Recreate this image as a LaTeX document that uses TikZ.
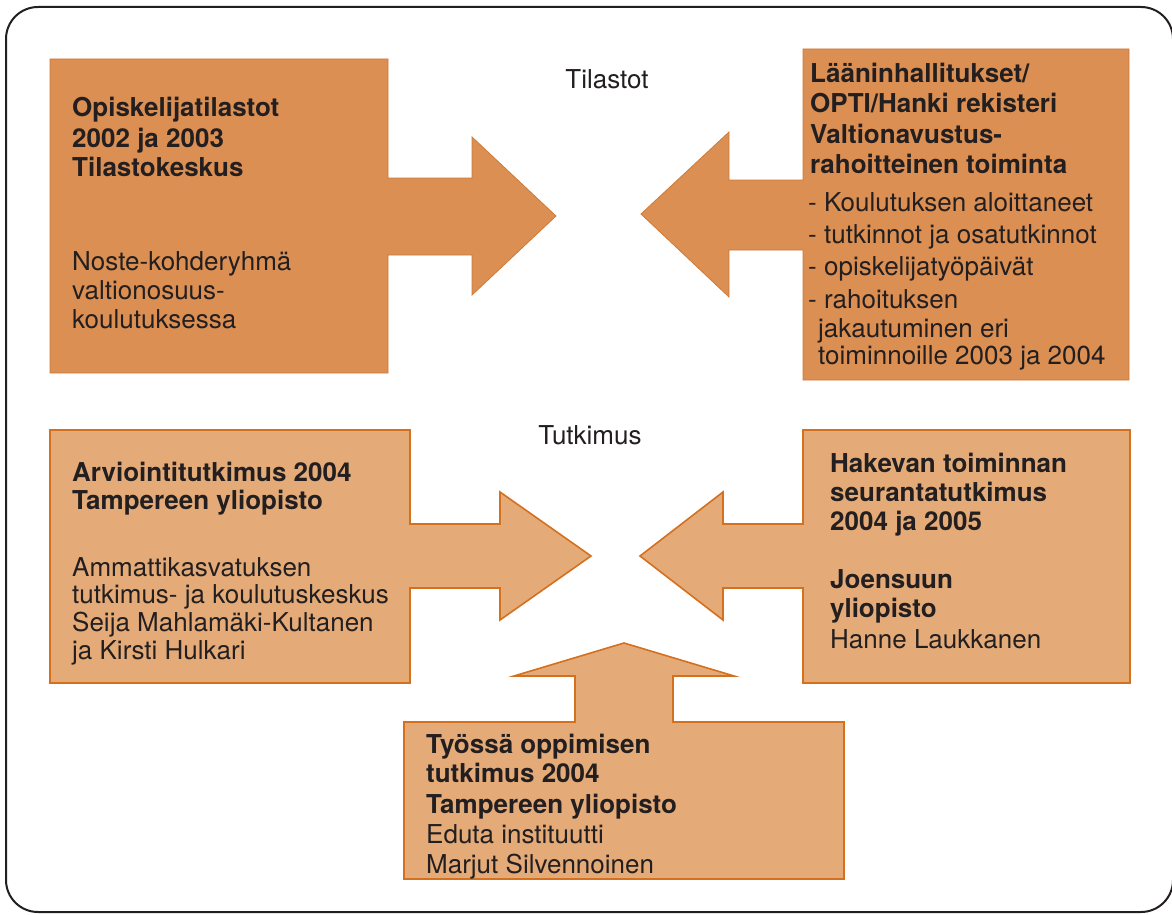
\documentclass[tikz,border=0pt]{standalone}
\usepackage{fontspec}
\setmainfont{TeX Gyre Heros}
\definecolor{tilfill}{HTML}{DB8F52}
\definecolor{tilline}{HTML}{CF7A36}
\definecolor{tutfill}{HTML}{E4AB78}
\definecolor{tutline}{HTML}{D4701E}
\definecolor{inkgray}{HTML}{231F20}
\tikzset{frame/.style={draw=inkgray, line width=2pt, rounded corners=32pt},
         topbox/.style={fill=tilfill, draw=tilline, line width=0.8pt},
         lowbox/.style={fill=tutfill, draw=tutline, line width=1.6pt},
         txt/.style={anchor=base west, inner sep=0pt, text=inkgray, font=\fontsize{26}{30}\selectfont},
         hd/.style={txt, font=\fontsize{26}{30}\selectfont\bfseries}}

\begin{document}
\begin{tikzpicture}[x=1pt,y=-1pt]
   \useasboundingbox (0,0) rectangle (1172,915);
   \draw[frame] (6,7) rectangle (1173,912);

   % Tilastot
   \draw[topbox] (50,59) -- (388,59) -- (388,178) -- (472,178) -- (472,137) -- (556,216)
     -- (472,295) -- (472,255) -- (388,255) -- (388,373) -- (50,373) -- cycle;
   \draw[topbox] (803,49) -- (1129,49) -- (1129,380) -- (803,380) -- (803,250) -- (729,250)
     -- (729,297) -- (641,214) -- (729,132) -- (729,180) -- (803,180) -- cycle;

   % Tutkimus
   \draw[lowbox] (50,430) -- (410,430) -- (410,524) -- (500,524) -- (500,492) -- (591,556)
     -- (500,620) -- (500,588) -- (410,588) -- (410,683) -- (50,683) -- cycle;
   \draw[lowbox] (803,430) -- (1130,430) -- (1130,683) -- (803,683) -- (803,588) -- (723,588)
     -- (723,620) -- (640,556) -- (723,492) -- (723,524) -- (803,524) -- cycle;
   \draw[lowbox] (404,722) -- (575,722) -- (575,676) -- (514,676) -- (624,643) -- (734,676)
     -- (673,676) -- (673,722) -- (844,722) -- (844,879) -- (404,879) -- cycle;

   \node[txt, anchor=base] (tilastot) at (607,89)  {Tilastot};
   \node[txt, anchor=base] (tutkimus) at (590,444) {Tutkimus};

   \node[hd]  (opis1) at (72,117) {Opiskelijatilastot};
   \node[hd]  (opis2) at (72,147) {2002 ja 2003};
   \node[hd]  (opis3) at (72,176) {Tilastokeskus};
   \node[txt] (opis4) at (72,270) {Noste-kohderyhmä};
   \node[txt] (opis5) at (72,299) {valtionosuus-};
   \node[txt] (opis6) at (72,328) {koulutuksessa};

   \node[hd]  (laan1) at (810, 83) {Lääninhallitukset/};
   \node[hd]  (laan2) at (810,113) {OPTI/Hanki rekisteri};
   \node[hd]  (laan3) at (810,143) {Valtionavustus-};
   \node[hd]  (laan4) at (810,173) {rahoitteinen toiminta};
   \node[txt] (laan5) at (808,211) {- Koulutuksen aloittaneet};
   \node[txt] (laan6) at (808,243) {- tutkinnot ja osatutkinnot};
   \node[txt] (laan7) at (808,275) {- opiskelijatyöpäivät};
   \node[txt] (laan8) at (808,308) {- rahoituksen};
   \node[txt] (laan9) at (818,337) {jakautuminen eri};
   \node[txt] (laan10) at (818,364) {toiminnoille 2003 ja 2004};

   \node[hd]  (arvi1) at (72,481) {Arviointitutkimus 2004};
   \node[hd]  (arvi2) at (72,509) {Tampereen yliopisto};
   \node[txt] (arvi3) at (72,576) {Ammattikasvatuksen};
   \node[txt] (arvi4) at (72,603) {tutkimus- ja koulutuskeskus};
   \node[txt] (arvi5) at (72,631) {Seija Mahlamäki-Kultanen};
   \node[txt] (arvi6) at (72,659) {ja Kirsti Hulkari};

   \node[hd]  (hake1) at (830,472) {Hakevan toiminnan};
   \node[hd]  (hake2) at (830,501) {seurantatutkimus};
   \node[hd]  (hake3) at (830,530) {2004 ja 2005};
   \node[hd]  (hake4) at (830,588) {Joensuun};
   \node[hd]  (hake5) at (830,617) {yliopisto};
   \node[txt] (hake6) at (830,648) {Hanne Laukkanen};

   \node[hd]  (tyo1) at (426,753) {Työssä oppimisen};
   \node[hd]  (tyo2) at (426,782) {tutkimus 2004};
   \node[hd]  (tyo3) at (426,813) {Tampereen yliopisto};
   \node[txt] (tyo4) at (426,843) {Eduta instituutti};
   \node[txt] (tyo5) at (426,873) {Marjut Silvennoinen};
\end{tikzpicture}
\end{document}
